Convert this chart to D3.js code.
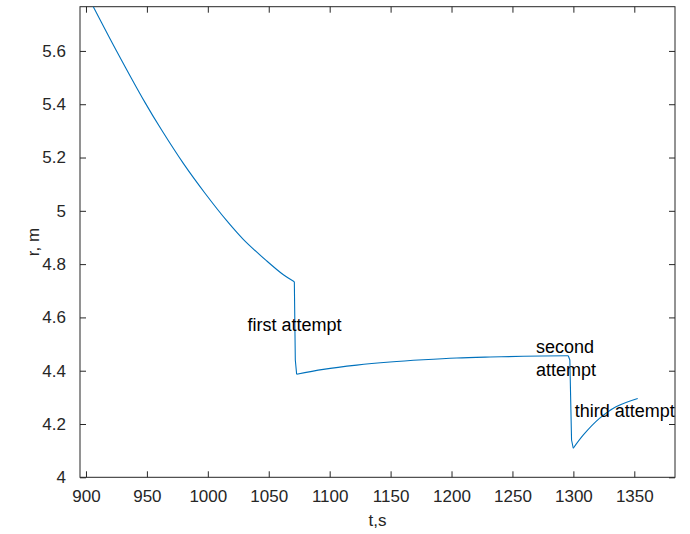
<!DOCTYPE html>
<html>
<head>
<meta charset="utf-8">
<script src="https://cdn.jsdelivr.net/npm/d3@7"></script>
<style>
  body { margin: 0; background: #fff; }
  svg { display: block; font-family: "Liberation Sans", Arial, sans-serif; }
</style>
</head>
<body>
<svg width="690" height="534"></svg>
<script>
// time, s
const timeS = [900, 906, 925.1, 948.4, 962.1, 979.9, 997.7, 1015.5, 1029.1, 1048.3, 1062, 1071,
  1071.8, 1072.9, 1094.8, 1122.2, 1149.5, 1176.9, 1204.2, 1231.6, 1258.9, 1295.8,
  1297.1, 1298.5, 1299.9, 1308.2, 1321.4, 1335, 1352.8];
// radius, m
const radiusM = [5.818, 5.766, 5.6, 5.407, 5.303, 5.178, 5.066, 4.963, 4.893, 4.812, 4.760, 4.734,
  4.44, 4.3865, 4.405, 4.421, 4.4325, 4.441, 4.4477, 4.4514, 4.454, 4.456,
  4.44, 4.14, 4.109, 4.159, 4.221, 4.265, 4.296];
// index ranges of the smooth stretches between the jumps
const smoothRuns = [[0, 11], [13, 21], [24, 28]];

const xTicks = [900, 950, 1000, 1050, 1100, 1150, 1200, 1250, 1300, 1350];
const yTicks = [4, 4.2, 4.4, 4.6, 4.8, 5, 5.2, 5.4, 5.6];

const notes = [
  {lines: ["first attempt"], t: 1032.6, r: 4.550},
  {lines: ["second", "attempt"], t: 1269.3, r: 4.465},
  {lines: ["third attempt"], t: 1301.1, r: 4.225}
];

const box = {left: 80, right: 675, top: 6.7, bottom: 477.3};
const tickLen = 6;

const svg = d3.select('svg');

const x = d3.scaleLinear().domain([895.1, 1383.4]).range([box.left, box.right]);
const y = d3.scaleLinear().domain([4, 5.766]).range([box.bottom, box.top]);

const points = timeS.map((t, i) => ({t: t, r: radiusM[i]}));

svg.append('clipPath').attr('id', 'plotclip')
  .append('rect')
  .attr('x', box.left).attr('y', box.top)
  .attr('width', box.right - box.left).attr('height', box.bottom - box.top);

// axes with inward ticks
svg.append('g')
  .attr('transform', `translate(0,${box.bottom})`)
  .call(d3.axisBottom(x).tickValues(xTicks).tickSizeInner(-tickLen).tickSizeOuter(0).tickPadding(13)
    .tickFormat(d3.format('d')))
  .call(g => g.select('.domain').remove());

svg.append('g')
  .attr('transform', `translate(0,${box.top})`)
  .call(d3.axisTop(x).tickValues(xTicks).tickSizeInner(-tickLen).tickSizeOuter(0).tickFormat(''))
  .call(g => g.select('.domain').remove());

svg.append('g')
  .attr('transform', `translate(${box.left},0)`)
  .call(d3.axisLeft(y).tickValues(yTicks).tickSizeInner(-tickLen).tickSizeOuter(0).tickPadding(14)
    .tickFormat(d3.format('~g')))
  .call(g => g.select('.domain').remove());

svg.append('g')
  .attr('transform', `translate(${box.right},0)`)
  .call(d3.axisRight(y).tickValues(yTicks).tickSizeInner(-tickLen).tickSizeOuter(0).tickFormat(''))
  .call(g => g.select('.domain').remove());

svg.selectAll('.tick line').attr('stroke', '#262626');
svg.selectAll('.tick text')
  .attr('fill', '#262626')
  .style('font-size', '17px')
  .style('font-family', '"Liberation Sans", Arial, sans-serif');

svg.append('rect')
  .attr('x', box.left).attr('y', box.top)
  .attr('width', box.right - box.left).attr('height', box.bottom - box.top)
  .attr('fill', 'none')
  .attr('stroke', '#262626')
  .attr('stroke-width', 1);

// the curve: smooth stretches, straight jumps between them
const smooth = d3.line()
  .x(d => x(d.t))
  .y(d => y(d.r))
  .curve(d3.curveCatmullRom.alpha(0.5));
const straight = d3.line()
  .x(d => x(d.t))
  .y(d => y(d.r));

const plot = svg.append('g').attr('clip-path', 'url(#plotclip)');

smoothRuns.forEach((run, k) => {
  plot.append('path')
    .datum(points.slice(run[0], run[1] + 1))
    .attr('d', smooth)
    .attr('fill', 'none')
    .attr('stroke', '#0072BD')
    .attr('stroke-width', 1.1)
    .attr('stroke-linejoin', 'round');
  if (k < smoothRuns.length - 1) {
    plot.append('path')
      .datum(points.slice(run[1], smoothRuns[k + 1][0] + 1))
      .attr('d', straight)
      .attr('fill', 'none')
      .attr('stroke', '#0072BD')
      .attr('stroke-width', 1.1)
      .attr('stroke-linejoin', 'round');
  }
});

// annotations
notes.forEach(n => {
  const txt = svg.append('text')
    .attr('x', x(n.t))
    .attr('y', y(n.r))
    .attr('fill', '#000')
    .style('font-size', '18px');
  n.lines.forEach((s, i) => {
    txt.append('tspan')
      .attr('x', x(n.t))
      .attr('dy', i === 0 ? 0 : 23)
      .text(s);
  });
});

// axis labels
svg.append('text')
  .attr('x', (box.left + box.right) / 2)
  .attr('y', 526)
  .attr('text-anchor', 'middle')
  .attr('fill', '#262626')
  .style('font-size', '17px')
  .text('t,s');

svg.append('text')
  .attr('transform', `translate(39,${(box.top + box.bottom) / 2}) rotate(-90)`)
  .attr('text-anchor', 'middle')
  .attr('fill', '#262626')
  .style('font-size', '17px')
  .text('r, m');
</script>
</body>
</html>
